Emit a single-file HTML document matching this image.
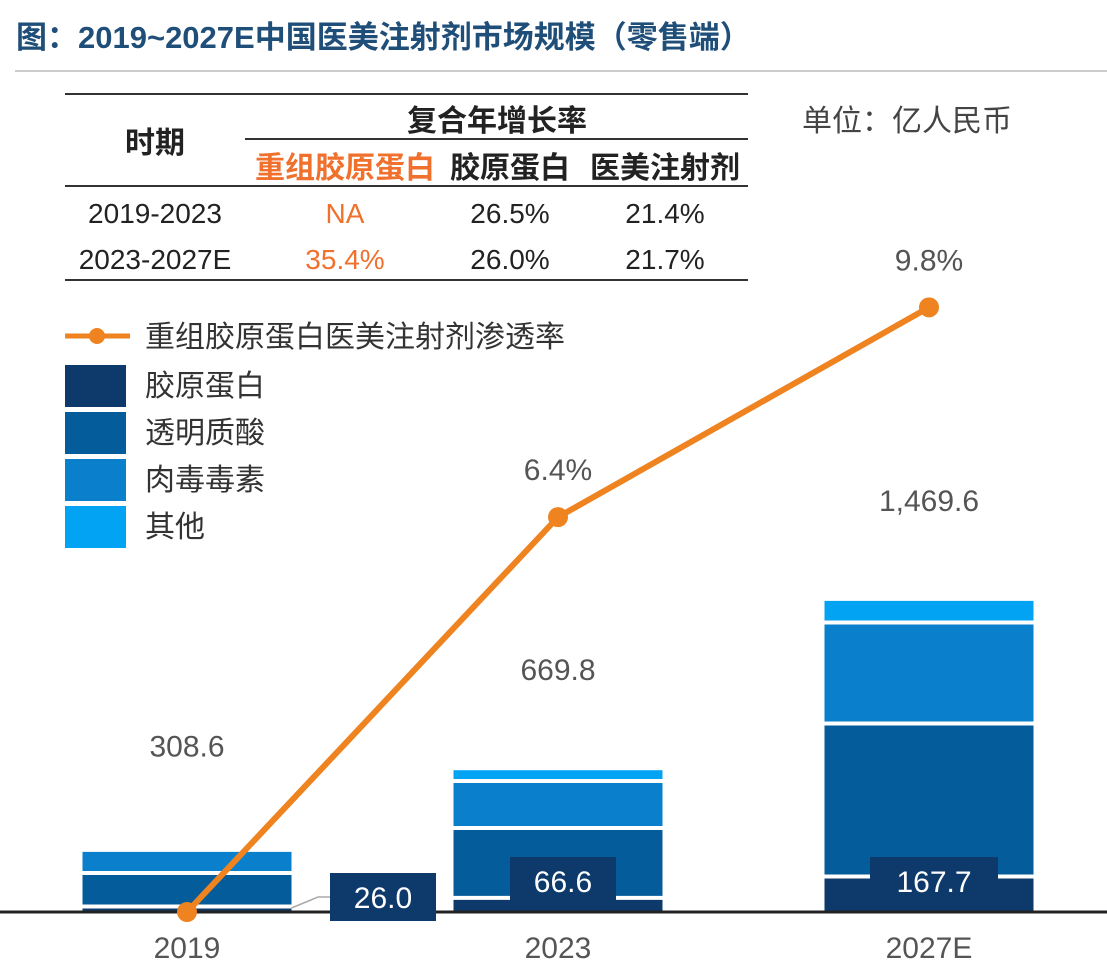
<!DOCTYPE html>
<html><head><meta charset="utf-8"><style>
body{margin:0;background:#fff;width:1107px;height:969px;overflow:hidden;font-family:"Liberation Sans","Noto Sans CJK SC",sans-serif;}
svg{display:block}
text{font-family:"Liberation Sans","Noto Sans CJK SC",sans-serif;}
</style></head><body>
<svg id="chart" width="1107" height="969" viewBox="0 0 1107 969">
<text x="16" y="48" font-size="31" font-weight="bold" fill="#1f4e79">图：2019~2027E中国医美注射剂市场规模（零售端）</text>
<line x1="15" y1="71" x2="1107" y2="71" stroke="#ccc" stroke-width="2"/>
<g font-size="28" fill="#222">
<line x1="65" y1="94" x2="748" y2="94" stroke="#333" stroke-width="2"/>
<line x1="245" y1="139" x2="748" y2="139" stroke="#333" stroke-width="2"/>
<line x1="65" y1="186" x2="748" y2="186" stroke="#333" stroke-width="2"/>
<line x1="65" y1="280" x2="748" y2="280" stroke="#333" stroke-width="2"/>
<text x="155" y="153" text-anchor="middle" font-weight="bold" font-size="30">时期</text>
<text x="497" y="131" text-anchor="middle" font-weight="bold" font-size="30">复合年增长率</text>
<text x="345" y="178" text-anchor="middle" font-weight="bold" font-size="30" fill="#f0712d">重组胶原蛋白</text>
<text x="510" y="178" text-anchor="middle" font-weight="bold" font-size="30">胶原蛋白</text>
<text x="665" y="178" text-anchor="middle" font-weight="bold" font-size="30">医美注射剂</text>
<text x="155" y="223" text-anchor="middle">2019-2023</text>
<text x="345" y="223" text-anchor="middle" fill="#f0712d">NA</text>
<text x="510" y="223" text-anchor="middle">26.5%</text>
<text x="665" y="223" text-anchor="middle">21.4%</text>
<text x="155" y="269" text-anchor="middle">2023-2027E</text>
<text x="345" y="269" text-anchor="middle" fill="#f0712d">35.4%</text>
<text x="510" y="269" text-anchor="middle">26.0%</text>
<text x="665" y="269" text-anchor="middle">21.7%</text>
</g>
<text x="802" y="131" font-size="30" fill="#444">单位：亿人民币</text>
<g font-size="30" fill="#333">
<line x1="65" y1="336" x2="130" y2="336" stroke="#ee8320" stroke-width="5"/>
<circle cx="97" cy="336" r="8" fill="#ee8320"/>
<text x="145" y="347">重组胶原蛋白医美注射剂渗透率</text>
<rect x="65" y="365" width="61" height="42" fill="#0d3a6b"/><text x="145" y="396">胶原蛋白</text>
<rect x="65" y="412" width="61" height="42" fill="#045c9a"/><text x="145" y="443">透明质酸</text>
<rect x="65" y="459" width="61" height="42" fill="#0a80cc"/><text x="145" y="490">肉毒毒素</text>
<rect x="65" y="506" width="61" height="42" fill="#03a3f4"/><text x="145" y="537">其他</text>
</g>
<g id="bars"></g>
<line x1="0" y1="912" x2="1107" y2="912" stroke="#222" stroke-width="3"/>
<g id="overlay"></g>
</svg>
<script>
const categories=["2019","2023","2027E"];
const collagen=[26.0,66.6,167.7];
const hyaluronic=[158,330,723];
const botox=[100,222,477];
const other=[0,51.2,101.9];
const totals=[308.6,669.8,1469.6];
const totalLabels=["308.6","669.8","1,469.6"];
const penetration=[0,6.4,9.8];
const penLabels=["","6.4%","9.8%"];
const NS="http://www.w3.org/2000/svg";
const baseY=912, kv=0.2117, kp=61.7, barW=209;
const xC=i=>187+i*371;
const yV=v=>baseY-v*kv;
const yP=v=>baseY-v*kp;
function mk(tag,attrs,parent){const e=document.createElementNS(NS,tag);for(const k in attrs)e.setAttribute(k,attrs[k]);parent.appendChild(e);return e;}
const bars=document.getElementById('bars'), ov=document.getElementById('overlay');
const series=[[collagen,"#0d3a6b","collagen"],[hyaluronic,"#045c9a","hyaluronic"],[botox,"#0a80cc","botox"],[other,"#03a3f4","other"]];
categories.forEach((c,i)=>{
  let cum=0;
  series.forEach(([arr,col,nm])=>{
    if(arr[i]<=0)return;
    const y0=yV(cum), y1=yV(cum+arr[i]);
    const r=mk('rect',{x:xC(i)-barW/2,y:y1,width:barW,height:y0-y1,fill:col},bars);
    
    
    if(cum>0){const l=mk('line',{x1:xC(i)-barW/2,x2:xC(i)+barW/2,y1:y0,y2:y0,stroke:"#fff","stroke-width":4},bars);
      
      }
    cum+=arr[i];
  });
  const t=mk('text',{x:xC(i),y:yV(totals[i])-90,"text-anchor":"middle","font-size":"30",fill:"#555"},ov);
  t.textContent=totalLabels[i];
  
  
  const xl=mk('text',{x:xC(i),y:958,"text-anchor":"middle","font-size":"30",fill:"#555"},ov);
  xl.textContent=c;
  
  
  const bw=i===2?128:106, bx=i===0?330:xC(i)-bw/2+5, by=i===0?873:baseY-55;
  if(i===0){const ld=mk('polyline',{points:(xC(0)+barW/2)+","+(baseY-4)+" 318,897 330,897",fill:"none",stroke:"#aaa","stroke-width":1.5},ov);
    
    }
  const b=mk('rect',{x:bx,y:by,width:bw,height:48,fill:"#0d3a6b"},ov);
  
  
  const bt=mk('text',{x:bx+bw/2,y:by+35,"text-anchor":"middle","font-size":"30",fill:"#fff"},ov);
  bt.textContent=collagen[i].toFixed(1);
  
  
});
const pts=penetration.map((v,i)=>xC(i)+","+yP(v)).join(" ");
const pl=mk('polyline',{points:pts,fill:"none",stroke:"#ee8320","stroke-width":6,"stroke-linejoin":"round"},ov);


penetration.forEach((v,i)=>{
  const d=mk('circle',{cx:xC(i),cy:yP(v),r:10,fill:"#ee8320"},ov);
  
  
  if(penLabels[i]){const t=mk('text',{x:xC(i),y:yP(v)-37,"text-anchor":"middle","font-size":"30",fill:"#555"},ov);
    t.textContent=penLabels[i];
    
    }
});
</script>
</body></html>
